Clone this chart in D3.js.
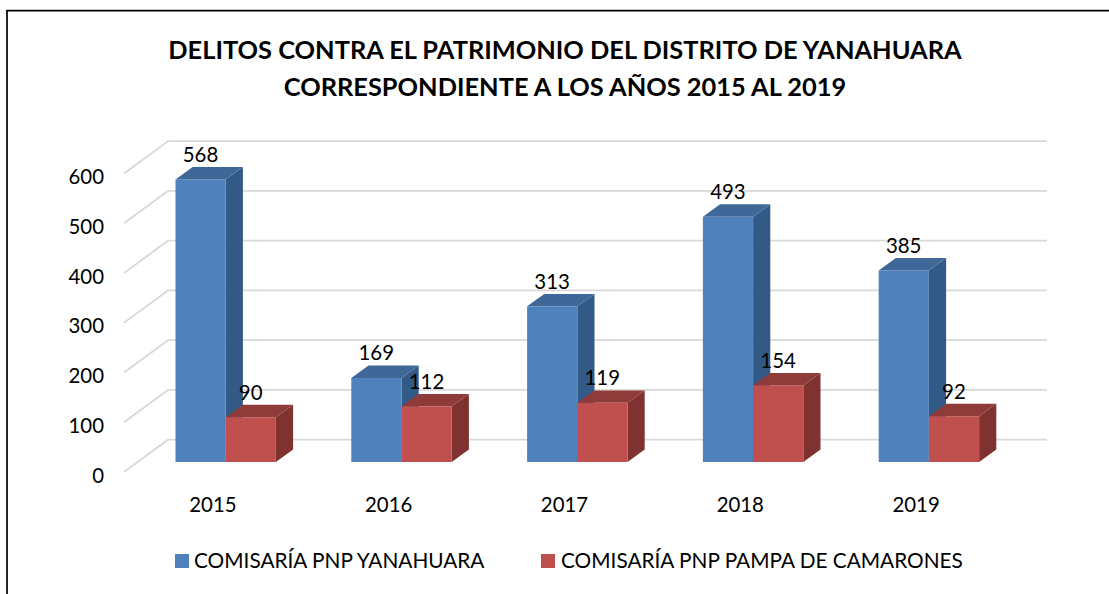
<!DOCTYPE html>
<html><head><meta charset="utf-8">
<script src="https://cdn.jsdelivr.net/npm/d3@7/dist/d3.min.js"></script>
<style>html,body{margin:0;background:#fff}svg{display:block}text{font-family:Lato,"Noto Sans",sans-serif;fill:#000}</style>
</head><body><svg id="c" width="1109" height="594"></svg>
<script>
const years = ["2015","2016","2017","2018","2019"];
const yanahuara = [568,169,313,493,385];
const camarones = [90,112,119,154,92];
const yTicks = [0,100,200,300,400,500,600];
const seriesNames = ["COMISARÍA PNP YANAHUARA","COMISARÍA PNP PAMPA DE CAMARONES"];
const titleLines = ["DELITOS CONTRA EL PATRIMONIO DEL DISTRITO DE YANAHUARA","CORRESPONDIENTE A LOS AÑOS 2015 AL 2019"];

const svg = d3.select("#c");
svg.append("path").attr("d","M1109,10.6H7V594").attr("fill","none").attr("stroke","#000").attr("stroke-width",1.7);

const t = svg.append("g").attr("text-anchor","middle").attr("font-weight",700).attr("font-size",25.4);
titleLines.forEach((l,i)=>t.append("text").attr("x",565).attr("y",[58.5,95.5][i]).text(l));

const y = d3.scaleLinear().domain([0,600]).range([472,173.5]);
const x = d3.scaleBand().domain(years).range([124,1003]).paddingInner(0).paddingOuter(0);
const depthX=44, depthY=-32.3, backRight=1047;
const g = svg.append("g");
g.selectAll("path.grid").data(yTicks).join("path").attr("class","grid")
 .attr("d",d=>`M${124},${y(d)}L${124+depthX},${y(d)+depthY}H${backRight}`)
 .attr("fill","none").attr("stroke","#d9d9d9").attr("stroke-width",1.8);

const yLab = svg.append("g").attr("text-anchor","end").attr("font-size",20.4);
yLab.selectAll("text").data(yTicks).join("text").attr("x",104).attr("y",d=>y(d)+10.5).text(d=>d);

const barW=50.2, offs=[15.0,65.2], dx=17.2, dy=-12.4, baseShift=-10;
const yVal = v=>y(v)+baseShift;
const series=[
 {vals:yanahuara,front:"#4f81bd",top:"#3f6797",side:"#335a86"},
 {vals:camarones,front:"#c0504d",top:"#8f3b39",side:"#7f3230"}];
series.forEach((s,k)=>{
  const b=svg.append("g");
  const data=years.map((yr,i)=>({yr,v:s.vals[i]}));
  const gx=d=>x(d.yr)+offs[k]+36.5;
  b.selectAll("path.side").data(data).join("path").attr("fill",s.side)
   .attr("d",d=>{const X=gx(d)+barW,T=yVal(d.v),B=yVal(0);return `M${X},${T}l${dx},${dy}V${B+dy}l${-dx},${-dy}Z`});
  b.selectAll("path.top").data(data).join("path").attr("fill",s.top)
   .attr("d",d=>{const X=gx(d),T=yVal(d.v);return `M${X},${T}l${dx},${dy}h${barW}l${-dx},${-dy}Z`});
  b.selectAll("rect").data(data).join("rect").attr("fill",s.front)
   .attr("x",gx).attr("y",d=>yVal(d.v)).attr("width",barW).attr("height",d=>yVal(0)-yVal(d.v));
  svg.append("g").attr("text-anchor","middle").attr("font-size",20.4)
   .selectAll("text").data(data).join("text")
   .attr("x",d=>gx(d)+25).attr("y",d=>yVal(d.v)-17.5).text(d=>d.v);
});

svg.append("g").attr("text-anchor","middle").attr("font-size",20.4)
 .selectAll("text").data(years).join("text")
 .attr("x",d=>x(d)+x.bandwidth()/2+1).attr("y",512).text(d=>d);

const leg=[[175,194],[541,561]];
seriesNames.forEach((n,i)=>{
  svg.append("rect").attr("x",leg[i][0]).attr("y",554).attr("width",14).attr("height",14).attr("fill",series[i].front);
  svg.append("text").attr("x",leg[i][1]).attr("y",568).attr("font-size",20.8).text(n);
});
</script></body></html>
